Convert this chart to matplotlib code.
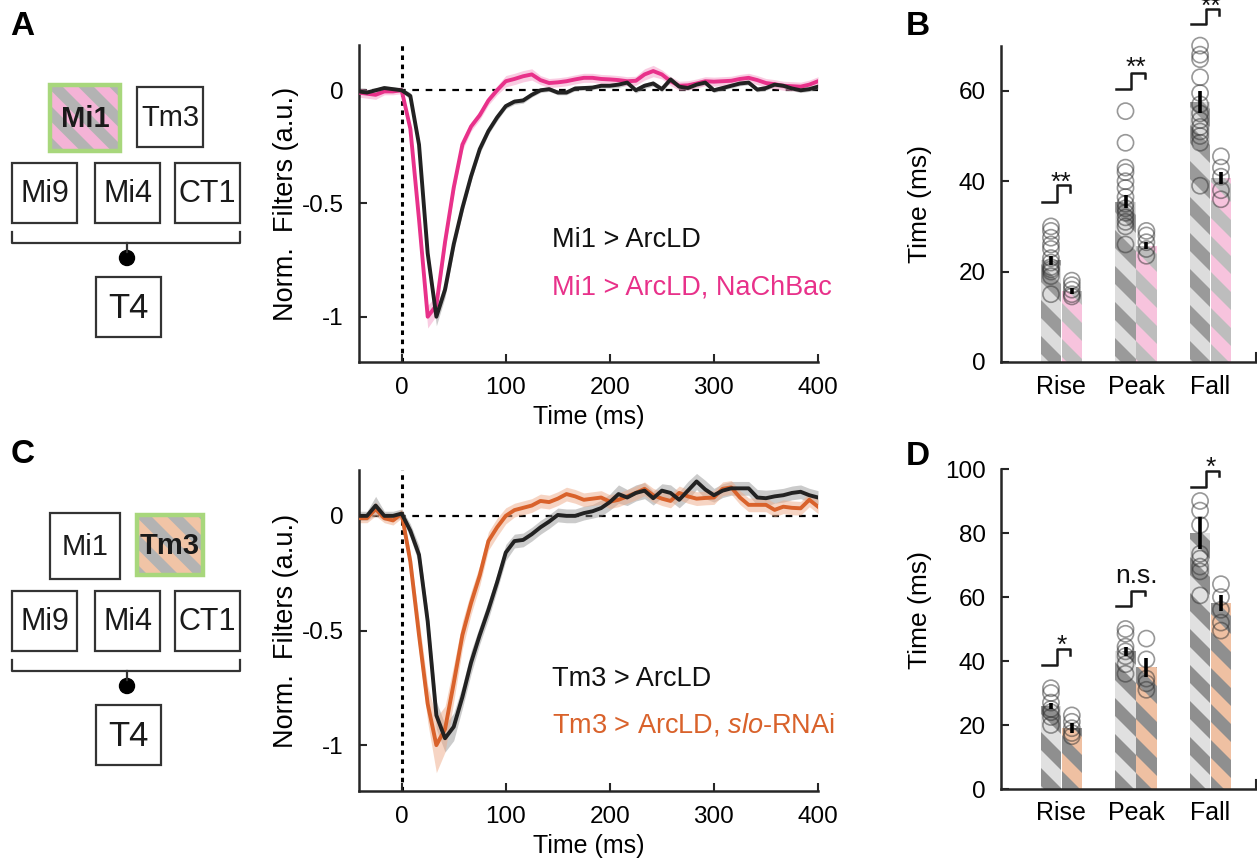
import numpy as np
import matplotlib
matplotlib.use("Agg")
import matplotlib.pyplot as plt
from matplotlib.patches import Rectangle, Circle
from matplotlib.collections import PolyCollection

plt.rcParams['font.family'] = ['Liberation Sans', 'DejaVu Sans']
plt.rcParams['mathtext.fontset'] = 'custom'
plt.rcParams['mathtext.rm'] = 'Liberation Sans'
plt.rcParams['mathtext.it'] = 'Liberation Sans:italic'
plt.rcParams['axes.unicode_minus'] = False

# ----- temporal filters (sampled at 120 Hz) -----
t_ms = np.arange(-5, 49) * (1000 / 120)

mi1_ctrl = [-0.005, -0.01, 0.0, 0.01, 0.005, 0.0, -0.025, -0.24, -0.72, -1.0,
            -0.88, -0.68, -0.52, -0.38, -0.26, -0.18, -0.12, -0.07, -0.05, -0.045,
            -0.02, 0.0, 0.005, -0.01, -0.01, 0.008, 0.01, 0.012, 0.02, 0.02,
            0.025, 0.034, 0.0, 0.02, 0.03, 0.005, 0.048, 0.016, 0.01, 0.025,
            0.034, 0.0, 0.01, 0.02, 0.03, 0.034, 0.003, 0.01, 0.025, 0.02,
            0.008, 0.0, 0.005, 0.016]
mi1_ctrl_sem = [0.01, 0.01, 0.01, 0.01, 0.01, 0.01, 0.015, 0.025, 0.03, 0.04,
                0.035, 0.03, 0.025, 0.02, 0.02, 0.015, 0.015, 0.012, 0.012, 0.012,
                0.01, 0.01, 0.01, 0.01, 0.01, 0.01, 0.01, 0.01, 0.01, 0.01,
                0.012, 0.012, 0.012, 0.012, 0.012, 0.012, 0.012, 0.012, 0.01, 0.01,
                0.01, 0.01, 0.01, 0.01, 0.01, 0.01, 0.01, 0.01, 0.01, 0.01,
                0.01, 0.01, 0.01, 0.01]
mi1_nachbac = [-0.01, -0.015, -0.02, -0.005, -0.005, 0.0, -0.17, -0.57, -1.0, -0.95,
               -0.67, -0.43, -0.24, -0.16, -0.11, -0.045, 0.0, 0.04, 0.05, 0.062,
               0.07, 0.045, 0.032, 0.035, 0.04, 0.048, 0.055, 0.055, 0.05, 0.048,
               0.045, 0.04, 0.042, 0.07, 0.085, 0.07, 0.04, 0.02, 0.022, 0.03,
               0.04, 0.038, 0.04, 0.042, 0.05, 0.055, 0.045, 0.032, 0.027, 0.02,
               0.018, 0.016, 0.025, 0.04]
mi1_nachbac_sem = [0.02, 0.02, 0.02, 0.015, 0.015, 0.015, 0.02, 0.03, 0.05, 0.045,
                   0.035, 0.03, 0.025, 0.02, 0.02, 0.02, 0.02, 0.025, 0.025, 0.025,
                   0.025, 0.02, 0.02, 0.02, 0.02, 0.02, 0.02, 0.02, 0.02, 0.02,
                   0.02, 0.02, 0.02, 0.025, 0.025, 0.02, 0.02, 0.02, 0.02, 0.02,
                   0.02, 0.02, 0.02, 0.02, 0.02, 0.02, 0.02, 0.02, 0.02, 0.02,
                   0.02, 0.02, 0.02, 0.02]

tm3_ctrl = [0.0, 0.0, 0.045, 0.0, 0.0, 0.01, -0.065, -0.17, -0.46, -0.87,
            -0.97, -0.92, -0.79, -0.64, -0.52, -0.41, -0.29, -0.16, -0.11, -0.105,
            -0.08, -0.05, -0.025, 0.004, 0.0, 0.0, 0.012, 0.02, 0.034, 0.06,
            0.095, 0.08, 0.1, 0.11, 0.077, 0.11, 0.1, 0.07, 0.11, 0.15,
            0.115, 0.09, 0.11, 0.12, 0.12, 0.12, 0.08, 0.077, 0.085, 0.09,
            0.1, 0.105, 0.09, 0.08]
tm3_ctrl_sem = [0.02, 0.02, 0.04, 0.02, 0.02, 0.02, 0.03, 0.04, 0.05, 0.06,
                0.06, 0.06, 0.05, 0.05, 0.04, 0.04, 0.035, 0.035, 0.03, 0.03,
                0.03, 0.03, 0.03, 0.03, 0.03, 0.03, 0.03, 0.03, 0.035, 0.035,
                0.04, 0.035, 0.035, 0.035, 0.03, 0.03, 0.035, 0.035, 0.04, 0.035,
                0.04, 0.03, 0.03, 0.03, 0.03, 0.03, 0.035, 0.035, 0.03, 0.03,
                0.03, 0.03, 0.03, 0.03]
tm3_slo = [-0.01, -0.01, 0.03, -0.01, -0.02, 0.01, -0.2, -0.52, -0.82, -1.0,
           -0.93, -0.73, -0.52, -0.38, -0.26, -0.11, -0.05, 0.0, 0.025, 0.035,
           0.045, 0.065, 0.06, 0.075, 0.095, 0.085, 0.07, 0.075, 0.08, 0.062,
           0.07, 0.085, 0.1, 0.118, 0.09, 0.075, 0.065, 0.1, 0.085, 0.075,
           0.078, 0.08, 0.118, 0.124, 0.08, 0.048, 0.048, 0.048, 0.026, 0.04,
           0.035, 0.033, 0.07, 0.04]
tm3_slo_sem = [0.02, 0.02, 0.03, 0.02, 0.02, 0.02, 0.04, 0.07, 0.08, 0.12,
               0.1, 0.08, 0.06, 0.05, 0.045, 0.04, 0.04, 0.035, 0.03, 0.03,
               0.03, 0.03, 0.03, 0.03, 0.03, 0.03, 0.03, 0.03, 0.03, 0.03,
               0.03, 0.03, 0.03, 0.03, 0.03, 0.03, 0.03, 0.03, 0.03, 0.03,
               0.03, 0.03, 0.03, 0.03, 0.03, 0.03, 0.03, 0.03, 0.03, 0.03,
               0.03, 0.03, 0.03, 0.03]

# ----- kinetics (ms) -----
phases = ['Rise', 'Peak', 'Fall']

mi1_mean_ctrl = [22.5, 35.5, 57.5]
mi1_sem_ctrl = [1.0, 1.5, 2.5]
mi1_mean_exp = [15.7, 25.7, 40.7]
mi1_sem_exp = [0.6, 0.8, 1.3]
mi1_pts_ctrl = [[30, 29, 27.5, 26, 25, 23, 22, 21, 20.5, 20, 19, 15],
                [55.5, 48.5, 43, 42, 40, 38.5, 36.5, 35, 34, 33, 32, 31, 30, 26],
                [70, 68, 67, 63, 59.5, 57, 55, 53.5, 52, 51, 50, 48.5, 39]]
mi1_pts_exp = [[18, 17, 16, 15, 14.5],
               [29, 28, 26.5, 25, 23.5],
               [45.5, 43, 41, 38, 36]]
mi1_stars = ['**', '**', '**']

tm3_mean_ctrl = [26, 43, 80]
tm3_sem_ctrl = [1.0, 1.3, 5.0]
tm3_mean_exp = [19, 38, 58]
tm3_sem_exp = [1.6, 3.0, 2.5]
tm3_pts_ctrl = [[31.5, 30, 27, 25, 24, 22.5, 20],
                [50, 48.5, 44.5, 43, 41.5, 39, 36],
                [90, 87, 82.5, 73.5, 72, 69.5, 68, 60.5]]
tm3_pts_exp = [[23, 21, 19, 17.5, 16.5],
               [47, 40.5, 34.5, 33, 31],
               [64, 60, 56, 52, 49.5]]
tm3_stars = ['*', 'n.s.', '*']

W, H = 1257, 861
FW, FH = W / 100, H / 100
fig = plt.figure(figsize=(FW, FH), dpi=100)

INK = '#262626'
PINK = '#e8318a'
ORANGE = '#d9622b'


def px_axes(l, t, r, b):
    return fig.add_axes([l / W, 1 - b / H, (r - l) / W, (b - t) / H])


def stripe_polys(period):
    # diagonal "\" bands in figure inches
    polys = []
    w = period / 2
    for c in np.arange(-period, FW + FH + period, period):
        polys.append([(0, c), (FW, c - FW), (FW, c - FW + w), (0, c + w)])
    return polys


def add_stripes(ax, clip, color, period, z):
    pc = PolyCollection(stripe_polys(period), facecolors=color, edgecolors='none',
                        transform=fig.dpi_scale_trans, zorder=z)
    ax.add_collection(pc, autolim=False)
    pc.set_clip_path(clip)


dg = fig.add_axes([0, 0, 1, 1])
dg.set_xlim(0, W)
dg.set_ylim(H, 0)
dg.axis('off')

axA = px_axes(359, 45, 818, 362)
axC = px_axes(359, 470, 818, 791)
axB = px_axes(1001, 45.6, 1256, 362)
axD = px_axes(1001, 469, 1256, 789)


def style(ax):
    for s in ['top', 'right']:
        ax.spines[s].set_visible(False)
    for s in ['left', 'bottom']:
        ax.spines[s].set_color(INK)
        ax.spines[s].set_linewidth(1.8)
    ax.tick_params(direction='in', length=6, width=1.5, color=INK,
                   labelsize=17.5, pad=11, labelcolor='black')
    ax.set_facecolor('none')


# ----- circuit diagrams -----
def box(x0, y0, x1, y1, label, size=22, hl=None):
    if hl is None:
        dg.add_patch(Rectangle((x0, y0), x1 - x0, y1 - y0, facecolor='white',
                               edgecolor='#333333', lw=1.6))
        dg.text((x0 + x1) / 2, (y0 + y1) / 2 + 1, label, ha='center', va='center',
                fontsize=size, color='#1a1a1a')
    else:
        r = Rectangle((x0, y0), x1 - x0, y1 - y0, facecolor='#b3b3b3', edgecolor='none')
        dg.add_patch(r)
        add_stripes(dg, r, hl, 0.31, 1.5)
        dg.add_patch(Rectangle((x0, y0), x1 - x0, y1 - y0, facecolor='none',
                               edgecolor='#a8d77c', lw=3.2, zorder=3))
        dg.text((x0 + x1) / 2, (y0 + y1) / 2 + 1, label, ha='center', va='center',
                fontsize=size, fontweight='bold', color='#1a1a1a', zorder=4)


def circuit(dy, hl_mi1, hl_tm3):
    box(50, 85 + dy, 120, 151 + dy, 'Mi1', 21, hl_mi1)
    box(137, 87 + dy, 203, 147 + dy, 'Tm3', 21, hl_tm3)
    box(12, 163 + dy, 77, 223 + dy, 'Mi9')
    box(95, 163 + dy, 160, 223 + dy, 'Mi4')
    box(175, 163 + dy, 240, 223 + dy, 'CT1')
    dg.plot([12, 12, 240, 240], [232 + dy, 243 + dy, 243 + dy, 232 + dy], color='#333333', lw=1.6)
    dg.plot([127, 127], [243 + dy, 252 + dy], color='#333333', lw=1.6)
    dg.add_patch(Circle((127, 258 + dy), 7.5, color='black'))
    box(96, 277 + dy, 161, 337 + dy, 'T4', 25)


circuit(0, '#f4b3d6', None)
circuit(428, None, '#f1c4a6')

for lbl, x, y in [('A', 10, 35), ('B', 906, 35), ('C', 11, 463), ('D', 906, 465)]:
    dg.text(x, y, lbl, fontsize=24, fontweight='bold', va='baseline')


# ----- filter panels -----
def filters(ax, ctrl, ctrl_sem, exp, exp_sem, col, band, ctrl_lbl, exp_lbl, ly):
    style(ax)
    t = t_ms
    c, cs = np.array(ctrl), np.array(ctrl_sem)
    e, es = np.array(exp), np.array(exp_sem)
    ax.plot([-41, 400], [0, 0], color='black', lw=1.6, ls=(0, (3, 3)), zorder=1)
    ax.axvline(0, color='black', lw=2.2, ls=(0, (1.5, 1.5)), zorder=1)
    ax.fill_between(t, c - cs, c + cs, color='#8c8c8c', alpha=0.45, lw=0, zorder=2)
    ax.fill_between(t, e - es, e + es, color=band, alpha=0.5, lw=0, zorder=2)
    ax.plot(t, e, color=col, lw=2.8, zorder=3)
    ax.plot(t, c, color='#222222', lw=2.8, zorder=4)
    ax.set_xlim(-41, 400)
    ax.set_ylim(-1.2, 0.2)
    ax.set_xticks([0, 100, 200, 300, 400])
    ax.set_yticks([-1, -0.5, 0])
    ax.set_yticklabels(['-1', '-0.5', '0'])
    ax.set_xlabel('Time (ms)', fontsize=18)
    ax.set_ylabel('Norm.  Filters (a.u.)', fontsize=19.5)
    ax.xaxis.set_label_coords(0.5, -0.135)
    ax.yaxis.set_label_coords(-0.13, 0.5)
    ax.text(144, ly[0], ctrl_lbl, fontsize=19.5, color='#111111', va='center')
    ax.text(144, ly[1], exp_lbl, fontsize=19.5, color=col, va='center')


filters(axA, mi1_ctrl, mi1_ctrl_sem, mi1_nachbac, mi1_nachbac_sem, PINK, '#f59ac6',
        'Mi1 > ArcLD', 'Mi1 > ArcLD, NaChBac', (-0.66, -0.87))
filters(axC, tm3_ctrl, tm3_ctrl_sem, tm3_slo, tm3_slo_sem, ORANGE, '#eeab88',
        'Tm3 > ArcLD', 'Tm3 > ArcLD, $\\mathit{slo}$-RNAi', (-0.71, -0.91))


# ----- kinetics bar panels -----
def kinetics(ax, m_c, s_c, m_e, s_e, p_c, p_e, stars, ymax, yt, cols, brk, ylab_y):
    style(ax)
    light, dark, exp_base, exp_stripe = cols
    cats = np.arange(1, len(phases) + 1)
    off, bw = 0.14, 0.275
    for i, c in enumerate(cats):
        b = ax.bar(c - off, m_c[i], bw, color=light, edgecolor='none', zorder=1)[0]
        add_stripes(ax, b, dark, 0.36, 1.5)
        b = ax.bar(c + off, m_e[i], bw, color=exp_base, edgecolor='none', zorder=1)[0]
        add_stripes(ax, b, exp_stripe, 0.36, 1.5)
        ax.scatter([c - off] * len(p_c[i]), p_c[i], s=135, facecolors='none',
                   edgecolors=(0.2, 0.2, 0.2, 0.5), linewidths=1.2, zorder=4, clip_on=False)
        ax.scatter([c + off] * len(p_e[i]), p_e[i], s=135, facecolors='none',
                   edgecolors=(0.2, 0.2, 0.2, 0.5), linewidths=1.2, zorder=4, clip_on=False)
        ax.vlines(c - off, m_c[i] - s_c[i], m_c[i] + s_c[i], color='black', lw=2.6, zorder=5)
        ax.vlines(c + off, m_e[i] - s_e[i], m_e[i] + s_e[i], color='black', lw=2.6, zorder=5)
        foot, top, drop, base = brk[i]
        ax.plot([c - 0.265, c - 0.065, c - 0.065, c + 0.115, c + 0.115],
                [foot, foot, top, top, drop], color='#1a1a1a', lw=1.8,
                clip_on=False, zorder=5)
        ax.text(c, base, stars[i], ha='center', va='baseline', fontsize=19,
                color='#111111', clip_on=False)
    ax.set_xlim(0.19, 3.61)
    ax.set_ylim(0, ymax)
    ax.set_xticks(cats)
    ax.set_xticklabels(phases, fontsize=18)
    ax.tick_params(axis='x', length=0, pad=9)
    ax.set_yticks(yt)
    ax.set_ylabel('Time (ms)', fontsize=19)
    ax.yaxis.set_label_coords(-0.27, ylab_y)
    ax.plot([3.61, 3.61], [0, ymax * 0.028], color=INK, lw=1.5, clip_on=False)


kinetics(axB, mi1_mean_ctrl, mi1_sem_ctrl, mi1_mean_exp, mi1_sem_exp,
         mi1_pts_ctrl, mi1_pts_exp, mi1_stars, 70, [0, 20, 40, 60],
         ('#dcdcdc', '#9a9a9a', '#bdbdbd', '#f7c3dd'),
         [(35.5, 39.2, 37.7, 38.1), (60.3, 64.0, 62.8, 63.6), (74.7, 78.1, 76.8, 77.1)], 0.5)
kinetics(axD, tm3_mean_ctrl, tm3_sem_ctrl, tm3_mean_exp, tm3_sem_exp,
         tm3_pts_ctrl, tm3_pts_exp, tm3_stars, 100, [0, 20, 40, 60, 80, 100],
         ('#e0e0e0', '#8f8f8f', '#8f8f8f', '#efc0a2'),
         [(38.7, 43.7, 41.9, 42.4), (57.2, 62.0, 60.6, 64.3), (94.5, 99.5, 97.9, 98.1)], 0.56)

fig.savefig('out.png', dpi=100)
